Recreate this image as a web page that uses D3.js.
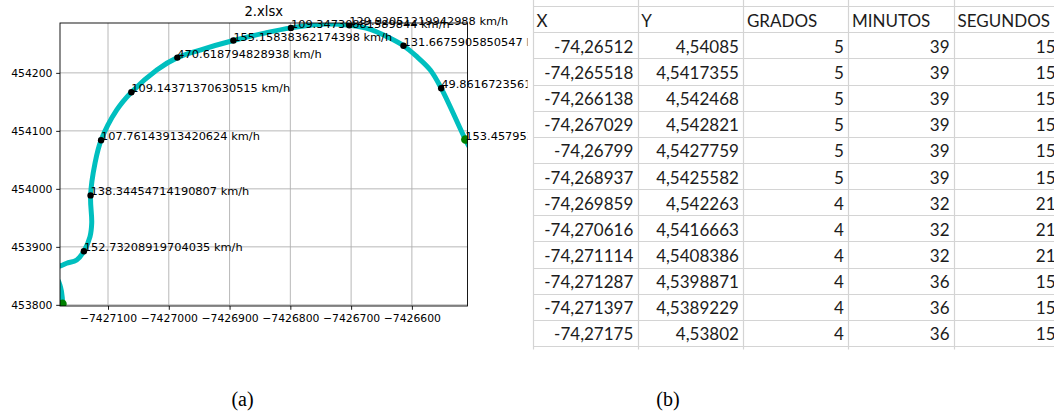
<!DOCTYPE html>
<html>
<head>
<meta charset="utf-8">
<script src="https://cdn.jsdelivr.net/npm/d3@7"></script>
<style>
  body { margin: 0; background: #fff; }
  svg { display: block; }
</style>
</head>
<body>
<svg id="fig" width="1054" height="416"></svg>
<script>
// GPS fixes as stored in the sheet (decimal degrees)
const lonX = [-74.26512, -74.265518, -74.266138, -74.267029, -74.26799, -74.268937,
              -74.269859, -74.270616, -74.271114, -74.271287, -74.271397, -74.27175];
const latY = [4.54085, 4.5417355, 4.542468, 4.542821, 4.5427759, 4.5425582,
              4.542263, 4.5416663, 4.5408386, 4.5398871, 4.5389229, 4.53802];
const grados   = [5, 5, 5, 5, 5, 5, 4, 4, 4, 4, 4, 4];
const minutos  = [39, 39, 39, 39, 39, 39, 32, 32, 32, 36, 36, 36];
const segundos = [15, 15, 15, 15, 15, 15, 21, 21, 21, 15, 15, 15];
const columns  = ["X", "Y", "GRADOS", "MINUTOS", "SEGUNDOS"];

// speed attached to each fix (km/h)
const speeds = [153.45795304818722, 49.86167235612893, 131.66759058505472,
                129.92051219942988, 109.34730881589844, 155.15838362174398,
                470.618794828938, 109.14371370630515, 107.76143913420624,
                138.34454714190807, 152.73208919704035];

// road geometry followed by the vehicle (same units as the plot: degrees * 1e5)
const routeX = [-7426505.5, -7426512, -7426551.8, -7426569.7, -7426591.7, -7426613.8,
                -7426641, -7426668.5, -7426702.9, -7426739.8, -7426799, -7426844.2,
                -7426893.7, -7426948.5, -7426985.9, -7427019.8, -7427061.6, -7427085.6,
                -7427111.4, -7427121.4, -7427128.7, -7427126.8, -7427129.6, -7427139.7,
                -7427151.5, -7427168, -7427179, -7427195.5, -7427203.7, -7427184,
                -7427178.2, -7427175.2, -7427175];
const routeY = [454072, 454085, 454173.6, 454205, 454227.9, 454246.8,
                454262.4, 454275.1, 454282.1, 454284.3, 454277.6, 454268.2,
                454255.8, 454239.4, 454226.3, 454205, 454166.6, 454136,
                454083.9, 454044.1, 453988.7, 453941.2, 453917.6, 453892.3,
                453877.4, 453871.7, 453867, 453863.6, 453851.5, 453844.6,
                453830.8, 453811.9, 453802];

const xTicks = [-7427100, -7427000, -7426900, -7426800, -7426700, -7426600];
const yTicks = [453800, 453900, 454000, 454100, 454200];
const chartTitle = "2.xlsx";
const captions = ["(a)", "(b)"];

const svg = d3.select("#fig");
const W = 1054, H = 416;
svg.append("rect").attr("width", W).attr("height", H).attr("fill", "#fff");

const fontPlot = "'DejaVu Sans', sans-serif";
// pick a font size so that a sample string spans the wanted width
function fitSize(sample, width, family) {
  const t = svg.append("text").style("font-family", family).style("font-size", "20px").text(sample);
  const len = t.node().getComputedTextLength();
  t.remove();
  return 20 * width / len;
}
const tickSize = fitSize("\u22127427100", 57.3, fontPlot);
const labelSize = fitSize("107.76143913420624 km/h", 159, fontPlot);
const titleSize = fitSize("2.xlsx", 38.7, fontPlot);

// ---------- panel (a): trajectory plot ----------
const ax = { left: 60, right: 467.5, top: 23, bottom: 306 };
const pts = lonX.map((lon, i) => ({ x: lon * 1e5, y: latY[i] * 1e5 }));

const x = d3.scaleLinear().domain([-7427179, -7426508.5]).range([ax.left, ax.right]);
const y = d3.scaleLinear().domain([453798, 454286]).range([ax.bottom, ax.top]);

const defs = svg.append("defs");
defs.append("clipPath").attr("id", "axclip")
  .append("rect").attr("x", ax.left).attr("y", ax.top)
  .attr("width", ax.right - ax.left).attr("height", ax.bottom - ax.top);
defs.append("clipPath").attr("id", "panelA")
  .append("rect").attr("x", 0).attr("y", 0).attr("width", 527.5).attr("height", 360);

const pa = svg.append("g").attr("clip-path", "url(#panelA)");

// grid
const grid = pa.append("g");
grid.selectAll("line.gx").data(xTicks).join("line")
  .attr("x1", d => x(d)).attr("x2", d => x(d))
  .attr("y1", ax.top).attr("y2", ax.bottom)
  .attr("stroke", "#b0b0b0").attr("stroke-width", 0.9);
grid.selectAll("line.gy").data(yTicks).join("line")
  .attr("x1", ax.left).attr("x2", ax.right)
  .attr("y1", d => y(d)).attr("y2", d => y(d))
  .attr("stroke", "#b0b0b0").attr("stroke-width", 0.9);

// route
const plotArea = pa.append("g").attr("clip-path", "url(#axclip)");
const line = d3.line().x(d => x(d[0])).y(d => y(d[1])).curve(d3.curveCatmullRom.alpha(0.5));
plotArea.append("path")
  .datum(routeX.map((v, i) => [v, routeY[i]]))
  .attr("d", line)
  .attr("fill", "none")
  .attr("stroke", "#00bfbf")
  .attr("stroke-width", 5)
  .attr("stroke-linejoin", "round");

// intermediate fixes
plotArea.selectAll("circle.fix").data(pts.slice(1, -1)).join("circle")
  .attr("cx", d => x(d.x)).attr("cy", d => y(d.y)).attr("r", 3.2)
  .attr("fill", "#000");
// first and last fixes
plotArea.selectAll("circle.end").data([pts[0], pts[pts.length - 1]]).join("circle")
  .attr("cx", d => x(d.x)).attr("cy", d => y(d.y)).attr("r", 4.3)
  .attr("fill", "#008000");

// axes
const xAxis = d3.axisBottom(x).tickValues(xTicks).tickFormat(d3.format("d"))
  .tickSize(3.8).tickPadding(5.0);
const yAxis = d3.axisLeft(y).tickValues(yTicks).tickFormat(d3.format("d"))
  .tickSize(3.8).tickPadding(3.8);
const gx = pa.append("g").attr("transform", `translate(0,${ax.bottom})`).call(xAxis);
const gy = pa.append("g").attr("transform", `translate(${ax.left},0)`).call(yAxis);
[gx, gy].forEach(g => {
  g.select(".domain").remove();
  g.selectAll(".tick line").attr("stroke", "#000").attr("stroke-width", 0.9);
  g.selectAll(".tick text").attr("fill", "#000")
    .style("font-family", fontPlot).style("font-size", tickSize + "px");
});

// spines
pa.append("rect")
  .attr("x", ax.left).attr("y", ax.top)
  .attr("width", ax.right - ax.left).attr("height", ax.bottom - ax.top)
  .attr("fill", "none").attr("stroke", "#000").attr("stroke-width", 0.9);

// speed labels
pa.selectAll("text.spd").data(speeds).join("text")
  .attr("x", (d, i) => x(pts[i].x))
  .attr("y", (d, i) => y(pts[i].y))
  .attr("fill", "#000")
  .style("font-family", fontPlot).style("font-size", labelSize + "px")
  .text(d => `${d} km/h`);

// title
pa.append("text")
  .attr("x", (ax.left + ax.right) / 2).attr("y", 16)
  .attr("text-anchor", "middle").attr("fill", "#000")
  .style("font-family", fontPlot).style("font-size", titleSize + "px")
  .text(chartTitle);

// ---------- panel (b): spreadsheet ----------
const tb = svg.append("g");
const colEdges = [533, 637.7, 743.3, 848.3, 954, 1060];
const rowTop = 6, headH = 26.3, rowH = 26.14;
const nRows = lonX.length;
const rowLines = d3.range(nRows + 2).map(i => i === 0 ? rowTop : rowTop + headH + (i - 1) * rowH);
const tableBottom = rowLines[rowLines.length - 1];
const gridCol = "#d4d4d4";

tb.selectAll("line.h").data(rowLines).join("line")
  .attr("x1", colEdges[0]).attr("x2", W)
  .attr("y1", d => Math.round(d) + 0.5).attr("y2", d => Math.round(d) + 0.5)
  .attr("stroke", gridCol).attr("stroke-width", 1.2);
tb.selectAll("line.v").data(colEdges.slice(0, -1)).join("line")
  .attr("x1", d => Math.round(d) + 0.5).attr("x2", d => Math.round(d) + 0.5)
  .attr("y1", 0).attr("y2", tableBottom + 3.5)
  .attr("stroke", gridCol).attr("stroke-width", 1.2);

const fontSheet = "Lato, 'Open Sans', sans-serif";
const textCol = "#1c1c1c";
tb.selectAll("text.hd").data(columns).join("text")
  .attr("x", (d, i) => colEdges[i] + 3.6)
  .attr("y", rowTop + 21)
  .attr("fill", textCol)
  .style("font-family", fontSheet).style("font-size", "17px")
  .text(d => d);

const fmt = v => String(v).replace(".", ",");
const rows = d3.range(nRows).map(i => [fmt(lonX[i]), fmt(latY[i]), grados[i], minutos[i], segundos[i]]);
rows.forEach((r, i) => {
  const base = rowTop + headH + i * rowH + 20.6;
  tb.selectAll(null).data(r).join("text")
    .attr("x", (d, j) => colEdges[j + 1] - 4.4)
    .attr("y", base)
    .attr("text-anchor", "end")
    .attr("fill", textCol)
    .style("font-family", fontSheet).style("font-size", "17px")
    .text(d => d);
});

// ---------- captions ----------
svg.selectAll("text.cap").data(captions).join("text")
  .attr("x", (d, i) => i === 0 ? 242.5 : 668)
  .attr("y", 406)
  .attr("text-anchor", "middle")
  .attr("fill", "#000")
  .style("font-family", "'Liberation Serif', serif").style("font-size", "20px")
  .text(d => d);
</script>
</body>
</html>
